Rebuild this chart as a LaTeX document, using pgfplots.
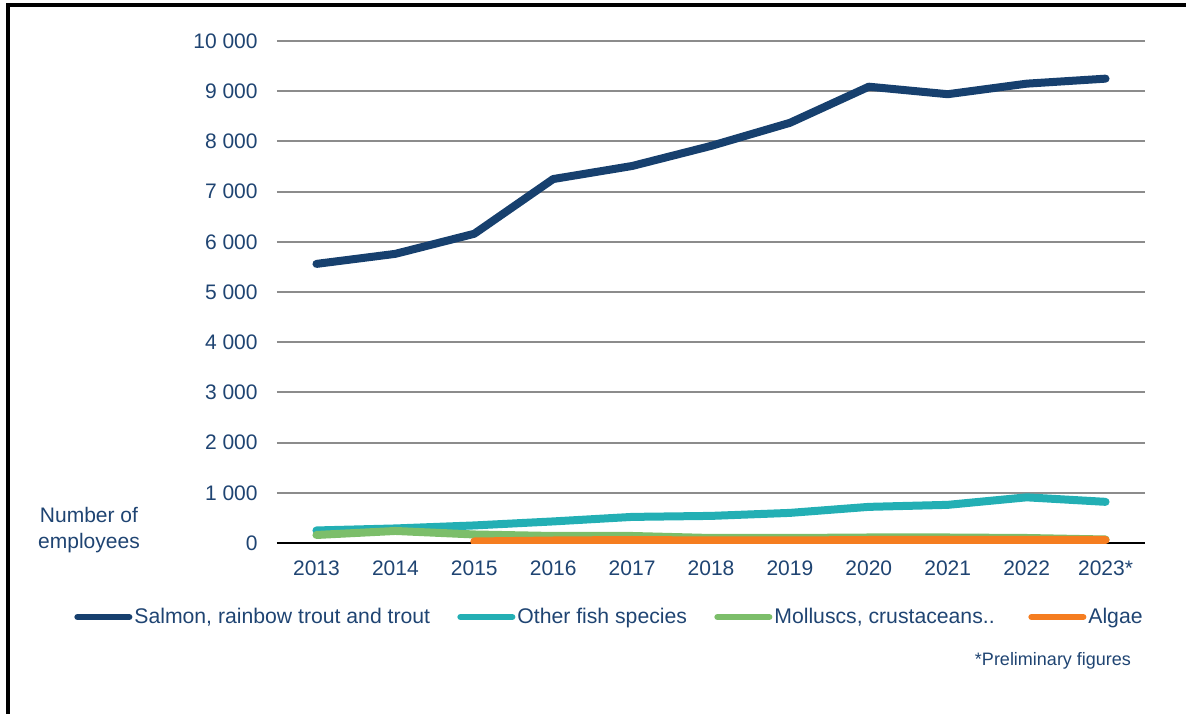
\documentclass[border=0pt]{standalone}
\usepackage{pgfplots}
\pgfplotsset{compat=1.18}
\usepackage{fontspec}
\setmainfont{Liberation Sans}
\definecolor{txt}{HTML}{1F4472}
\definecolor{salmon}{HTML}{17406E}
\definecolor{otherfish}{HTML}{23AFB4}
\definecolor{mollusc}{HTML}{7CBE6A}
\definecolor{algae}{HTML}{F57D20}
\definecolor{gridc}{HTML}{8C8C8C}

\begin{document}
\begin{tikzpicture}
\fontsize{10.5pt}{12.6pt}\selectfont
\useasboundingbox (-138.5pt,-85pt) rectangle (454.5pt,271.5pt);
% partial frame (left and top)
\draw[line width=2pt] (-134.5pt,-86pt) -- (-134.5pt,269pt) -- (456pt,269pt);
\begin{axis}[
    scale only axis, width=434pt, height=251pt,
    xmin=-0.5, xmax=10.5, ymin=0, ymax=10000,
    xtick={0,...,10},
    xticklabels={2013,2014,2015,2016,2017,2018,2019,2020,2021,2022,2023*},
    ytick={0,1000,...,10000},
    scaled y ticks=false,
    /pgf/number format/assume math mode=true,
    /pgf/number format/1000 sep={\ },
    tick label style={font=\fontsize{10.5pt}{12pt}\selectfont, text=txt},
    yticklabel style={xshift=-6pt},
    xticklabel style={yshift=-5pt},
    major tick length=0pt,
    axis x line*=bottom, axis y line*=left,
    x axis line style={black, line width=1pt},
    y axis line style={draw=none},
    ymajorgrids, major grid style={gridc, line width=1pt},
    every axis plot/.append style={line width=4pt, line cap=round, line join=round, mark=none},
    legend columns=4,
    legend style={at={(-0.2339,-0.1474)}, anchor=west, draw=none, fill=none,
        inner sep=0pt, font=\fontsize{10.6pt}{12pt}\selectfont, text=txt,
        nodes={inner xsep=1pt, inner ysep=1pt},
        /tikz/every even column/.append style={column sep=0pt}},
    legend cell align=left,
    legend image code/.code={\draw[#1, line width=3pt] (0pt,0pt) -- (26pt,0pt);},
]
\addplot[salmon] coordinates {(0,5560) (1,5760) (2,6160) (3,7250) (4,7510) (5,7910) (6,8370) (7,9090) (8,8940) (9,9150) (10,9250)};
\addlegendentry{\makebox[160.5pt][l]{Salmon, rainbow trout and trout}}
\addplot[otherfish] coordinates {(0,250) (1,290) (2,350) (3,430) (4,520) (5,540) (6,600) (7,720) (8,760) (9,910) (10,820)};
\addlegendentry{\makebox[97.5pt][l]{Other fish species}}
\addplot[mollusc] coordinates {(0,160) (1,240) (2,170) (3,140) (4,140) (5,100) (6,100) (7,110) (8,110) (9,100) (10,70)};
\addlegendentry{\makebox[126pt][l]{Molluscs, crustaceans..}}
\addplot[algae] coordinates {(2,30) (3,50) (4,60) (5,50) (6,50) (7,60) (8,60) (9,60) (10,60)};
\addlegendentry{Algae}
\end{axis}
\node[text=txt, align=center, font=\fontsize{10.5pt}{12.6pt}\selectfont] at (-94pt,6.5pt) {Number of\\employees};
\node[text=txt, font=\fontsize{9pt}{11pt}\selectfont] at (388pt,-59pt) {*Preliminary figures};
\end{tikzpicture}
\end{document}
